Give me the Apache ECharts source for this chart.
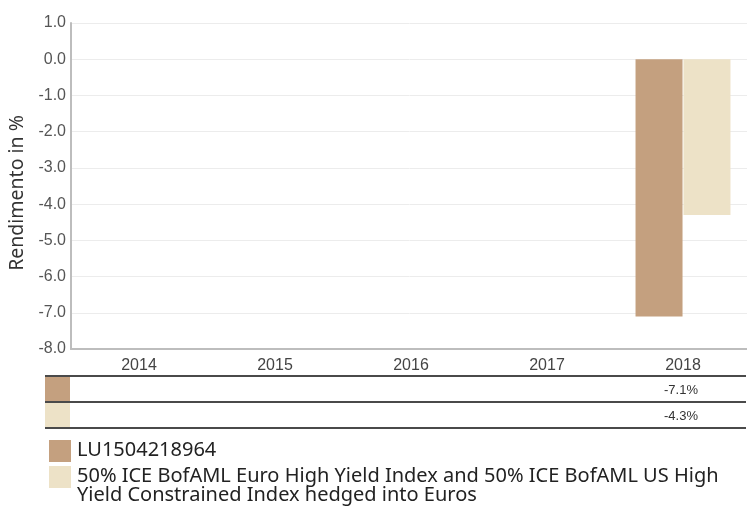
<!DOCTYPE html>
<html>
<head>
<meta charset="utf-8">
<script src="https://cdn.jsdelivr.net/npm/echarts@6/dist/echarts.min.js"></script>
<style>
  html, body { margin: 0; padding: 0; background: #fff; }
  #chart { width: 747px; height: 507px; }
</style>
</head>
<body>
<div id="chart"></div>
<script>
// chart data
const years = ['2014', '2015', '2016', '2017', '2018'];
const fundValues = [null, null, null, null, -7.1];
const indexValues = [null, null, null, null, -4.3];
const seriesNames = [
  'LU1504218964',
  '50% ICE BofAML Euro High Yield Index and 50% ICE BofAML US High Yield Constrained Index hedged into Euros'
];
const seriesColors = ['#c4a07f', '#ede2c7'];
const yMin = -8;
const yMax = 1;
const yStep = 1;

const chart = echarts.init(document.getElementById('chart'));

const option = {
  animation: false,
  grid: { left: 71, width: 680, top: 23, bottom: 158, outerBoundsMode: 'none' },
  xAxis: {
    type: 'category',
    data: years,
    axisLine: { onZero: false, lineStyle: { color: '#bdbdbd', width: 2 } },
    axisTick: { show: false },
    axisLabel: { color: '#444', fontSize: 16, fontFamily: 'Liberation Sans, Arial', margin: 9 }
  },
  yAxis: {
    type: 'value',
    min: yMin,
    max: yMax,
    interval: yStep,
    name: 'Rendimento in %',
    nameLocation: 'middle',
    nameGap: 44,
    nameTextStyle: {
      color: '#333', fontSize: 19.5, fontFamily: 'Noto Sans, sans-serif',
      padding: [0, 14, 0, 0]
    },
    axisLine: { show: true, lineStyle: { color: '#bdbdbd', width: 2 } },
    axisTick: { show: false },
    axisLabel: {
      color: '#555', fontSize: 16, fontFamily: 'Liberation Sans, Arial', margin: 5,
      formatter: v => v.toFixed(1)
    },
    splitLine: { lineStyle: { color: '#ececec', width: 1 } }
  },
  legend: { show: false },
  series: [
    {
      name: seriesNames[0], type: 'bar', data: fundValues,
      barWidth: 47, barGap: '2%', itemStyle: { color: seriesColors[0] }
    },
    {
      name: seriesNames[1], type: 'bar', data: indexValues,
      barWidth: 47, itemStyle: { color: seriesColors[1] }
    }
  ]
};

chart.setOption(option);

// simple word wrap with canvas measuring
const measureCtx = document.createElement('canvas').getContext('2d');
function wrap(text, font, maxW) {
  measureCtx.font = font;
  const words = text.split(' ');
  const lines = [];
  let cur = '';
  words.forEach(w => {
    const test = cur ? cur + ' ' + w : w;
    if (cur && measureCtx.measureText(test).width > maxW) {
      lines.push(cur);
      cur = w;
    } else {
      cur = test;
    }
  });
  if (cur) lines.push(cur);
  return lines.join('\n');
}

// table under the axis + legend, positioned from the category scale
const tableRows = [fundValues, indexValues];
const rowTop = 376;
const rowH = 26;
const left = 45;
const right = 746;
const els = [];

tableRows.forEach((row, r) => {
  const y0 = rowTop + r * rowH;
  els.push({
    type: 'rect',
    shape: { x: left, y: y0, width: 25, height: rowH },
    style: { fill: seriesColors[r] }
  });
  els.push({
    type: 'line',
    shape: { x1: left, y1: y0, x2: right, y2: y0 },
    style: { stroke: '#4a4a4a', lineWidth: 2 }
  });
  row.forEach((v, i) => {
    if (v == null) return;
    const cx = chart.convertToPixel({ xAxisIndex: 0 }, years[i]);
    els.push({
      type: 'text',
      x: cx - 2, y: y0 + rowH / 2 + 1,
      style: {
        text: v.toFixed(1) + '%', fill: '#333', fontSize: 13,
        fontFamily: 'Liberation Sans, Arial', align: 'center', verticalAlign: 'middle'
      }
    });
  });
});
els.push({
  type: 'line',
  shape: { x1: left, y1: rowTop + 2 * rowH, x2: right, y2: rowTop + 2 * rowH },
  style: { stroke: '#4a4a4a', lineWidth: 2 }
});

// legend
const legendTops = [440, 466];
const legendFont = '20px "Noto Sans"';
seriesNames.forEach((name, i) => {
  els.push({
    type: 'rect',
    shape: { x: 49, y: legendTops[i], width: 22, height: 22 },
    style: { fill: seriesColors[i] }
  });
  els.push({
    type: 'text',
    x: 77, y: legendTops[i] + 1,
    style: {
      text: wrap(name, legendFont, 655), fill: '#222', fontSize: 20, lineHeight: 19,
      fontFamily: 'Noto Sans, sans-serif', align: 'left', verticalAlign: 'top'
    }
  });
});

chart.setOption({ graphic: els });
</script>
</body>
</html>
